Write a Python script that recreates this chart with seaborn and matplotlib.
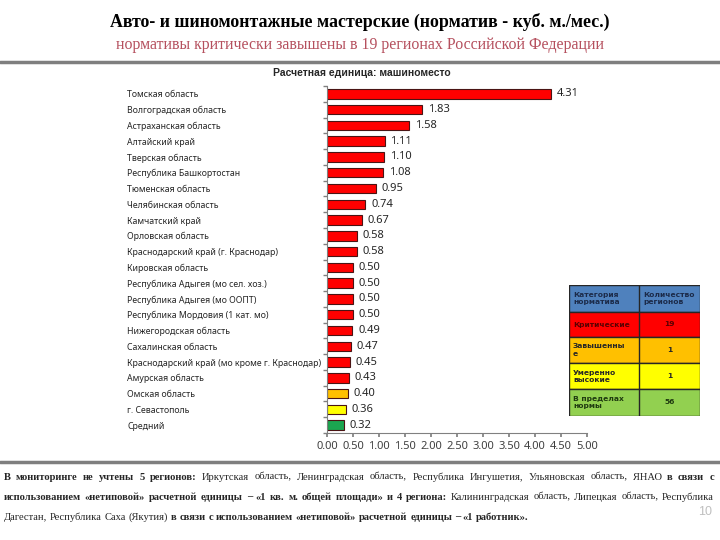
import matplotlib
matplotlib.use("Agg")
import numpy as np
import pandas as pd
import matplotlib.pyplot as plt
import seaborn as sns
from matplotlib.lines import Line2D
from matplotlib.patches import Rectangle

# Data
regions = [
    "Томская область",
    "Волгоградская область",
    "Астраханская область",
    "Алтайский край",
    "Тверская область",
    "Республика Башкортостан",
    "Тюменская область",
    "Челябинская область",
    "Камчатский край",
    "Орловская область",
    "Краснодарский край (г. Краснодар)",
    "Кировская область",
    "Республика Адыгея (мо сел. хоз.)",
    "Республика Адыгея (мо ООПТ)",
    "Республика Мордовия (1 кат. мо)",
    "Нижегородская область",
    "Сахалинская область",
    "Краснодарский край (мо кроме г. Краснодар)",
    "Амурская область",
    "Омская область",
    "г. Севастополь",
    "Средний",
]
values = [4.31, 1.83, 1.58, 1.11, 1.10, 1.08, 0.95, 0.74, 0.67, 0.58, 0.58,
          0.50, 0.50, 0.50, 0.50, 0.49, 0.47, 0.45, 0.43, 0.40, 0.36, 0.32]
levels = ["Критические"] * 19 + ["Завышенные", "Умеренно высокие", "В пределах нормы"]
level_colors = {
    "Критические": "#FF0000",
    "Завышенные": "#FFC000",
    "Умеренно высокие": "#FFFF00",
    "В пределах нормы": "#1BA550",
}

table_header = ["Категория\nнорматива", "Количество\nрегионов"]
table_categories = ["Критические", "Завышенны\nе", "Умеренно\nвысокие", "В пределах\nнормы"]
table_counts = ["19", "1", "1", "56"]
table_colors = ["#FF0000", "#FFC000", "#FFFF00", "#92D050"]

x_ticks = [0.0, 0.5, 1.0, 1.5, 2.0, 2.5, 3.0, 3.5, 4.0, 4.5, 5.0]

title = "Авто- и шиномонтажные мастерские (норматив - куб. м./мес.)"
subtitle = "нормативы критически завышены в 19 регионах Российской Федерации"
chart_title = "Расчетная единица: машиноместо"

footer_lines = [
    [("В мониторинге не учтены 5 регионов:", True),
     ("Иркутская область, Ленинградская область, Республика Ингушетия, Ульяновская область, ЯНАО", False),
     ("в связи с", True)],
    [("использованием «нетиповой» расчетной единицы – «1 кв. м. общей площади» и 4 региона:", True),
     ("Калининградская область, Липецкая область, Республика", False)],
    [("Дагестан, Республика Саха (Якутия)", False),
     ("в связи с использованием «нетиповой» расчетной единицы – «1 работник».", True)],
]

sns.set_theme(style="white")
plt.rcParams['font.family'] = ['Noto Sans', 'DejaVu Sans']

W, H = 720, 540
fig = plt.figure(figsize=(7.2, 5.4), dpi=100)

# titles
serif = ['Liberation Serif', 'DejaVu Serif']
fig.text(0.5, 1 - 22 / H, title, ha='center', va='center', fontsize=12.9,
         fontweight='bold', family=serif, color='black')
fig.text(0.5, 1 - 45 / H, subtitle, ha='center', va='center', fontsize=11.4,
         family=serif, color='#B5505E')
fig.add_artist(Line2D([0, 1], [1 - 62 / H, 1 - 62 / H], color='#7F7F7F', lw=2.5))
fig.add_artist(Line2D([0, 1], [1 - 462 / H, 1 - 462 / H], color='#7F7F7F', lw=2.5))
fig.text(362 / W, 1 - 73 / H, chart_title, ha='center', va='center', fontsize=7.5,
         fontweight='bold', family=['Liberation Sans', 'DejaVu Sans'])

# bar chart
ax = fig.add_axes([327 / W, 1 - 433 / H, 260 / W, (433 - 86) / H])
df = pd.DataFrame({'region': regions, 'value': values, 'level': levels})
sns.barplot(data=df, x='value', y='region', hue='level', palette=level_colors,
            dodge=False, width=0.6, saturation=1, edgecolor='#4a1414', linewidth=0.8,
            legend=False, ax=ax)
for c in ax.containers:
    ax.bar_label(c, fmt='%.2f', padding=4, fontsize=8, color='#262626')

ax.set_xlim(0, 5)
ax.set_ylim(len(regions) - 0.5, -0.5)
ax.set_xticks(x_ticks)
ax.set_xticklabels([f"{t:.2f}" for t in x_ticks], fontsize=8, color='#404040')
ax.set_xlabel('')
ax.set_ylabel('')
ax.set_yticks(np.arange(len(regions) + 1) - 0.5, minor=True)
ax.tick_params(axis='y', which='major', length=0, pad=144, labelsize=6.3,
               labelcolor='#262626')
ax.tick_params(axis='y', which='minor', length=3, color='#808080', direction='out', left=True)
ax.tick_params(axis='x', which='major', length=3, color='#808080', direction='out',
               bottom=True, pad=3)
for lbl in ax.get_yticklabels():
    lbl.set_ha('left')
for s in ['top', 'right']:
    ax.spines[s].set_visible(False)
for s in ['left', 'bottom']:
    ax.spines[s].set_color('#808080')
    ax.spines[s].set_linewidth(0.8)

# category table
tax = fig.add_axes([569 / W, 1 - 416 / H, 131 / W, 131 / H])
tax.set_xlim(0, 131)
tax.set_ylim(131, 0)
tax.axis('off')
rows = [0, 27, 52, 78, 104, 131]
split = 70
row_fills = ['#4F81BD'] + table_colors
row_text = [table_header] + [[c, n] for c, n in zip(table_categories, table_counts)]
text_cols = ['#1C2B4A', '#5A0000', '#262626', '#262626', '#1F3A10']
tfont = ['DejaVu Sans']
for i in range(5):
    y0, y1 = rows[i], rows[i + 1]
    tax.add_patch(Rectangle((0, y0), 131, y1 - y0, facecolor=row_fills[i],
                            edgecolor='#262626', lw=1.0))
    tax.plot([split, split], [y0, y1], color='#262626', lw=1.0)
    ym = (y0 + y1) / 2
    left_txt, right_txt = row_text[i]
    tax.text(4, ym, left_txt, ha='left', va='center', fontsize=5.4, family=tfont,
             fontweight='bold', color=text_cols[i], linespacing=1.2)
    if i == 0:
        tax.text(split + 4, ym, right_txt, ha='left', va='center', fontsize=5.4,
                 family=tfont, fontweight='bold', color=text_cols[i], linespacing=1.2)
    else:
        tax.text((split + 131) / 2, ym, right_txt, ha='center', va='center',
                 fontsize=5.4, family=tfont, fontweight='bold', color=text_cols[i])

# footer with mixed bold text, justified
renderer = fig.canvas.get_renderer()
x_left, x_right = 4, 714
line_y = [477, 497, 517]
fsize = 7.6
for li, segs in enumerate(footer_lines):
    words = []
    for txt, bold in segs:
        for w in txt.split(' '):
            words.append((w, bold))
    items = []
    for w, bold in words:
        t = fig.text(0, 1 - line_y[li] / H, w, ha='left', va='center', fontsize=fsize,
                     family=serif, fontweight='bold' if bold else 'normal')
        wpx = t.get_window_extent(renderer).width
        items.append((t, wpx))
    total = sum(wp for _, wp in items)
    if li < len(footer_lines) - 1:
        gap = (x_right - x_left - total) / (len(items) - 1)
    else:
        gap = 2.8
    x = x_left
    for t, wpx in items:
        t.set_x(x / W)
        x += wpx + gap

fig.text(705 / W, 1 - 512 / H, "10", ha='center', va='center', fontsize=9,
         color='#BFBFBF', family=['Liberation Sans', 'DejaVu Sans'])

fig.savefig("out.png", dpi=100)
